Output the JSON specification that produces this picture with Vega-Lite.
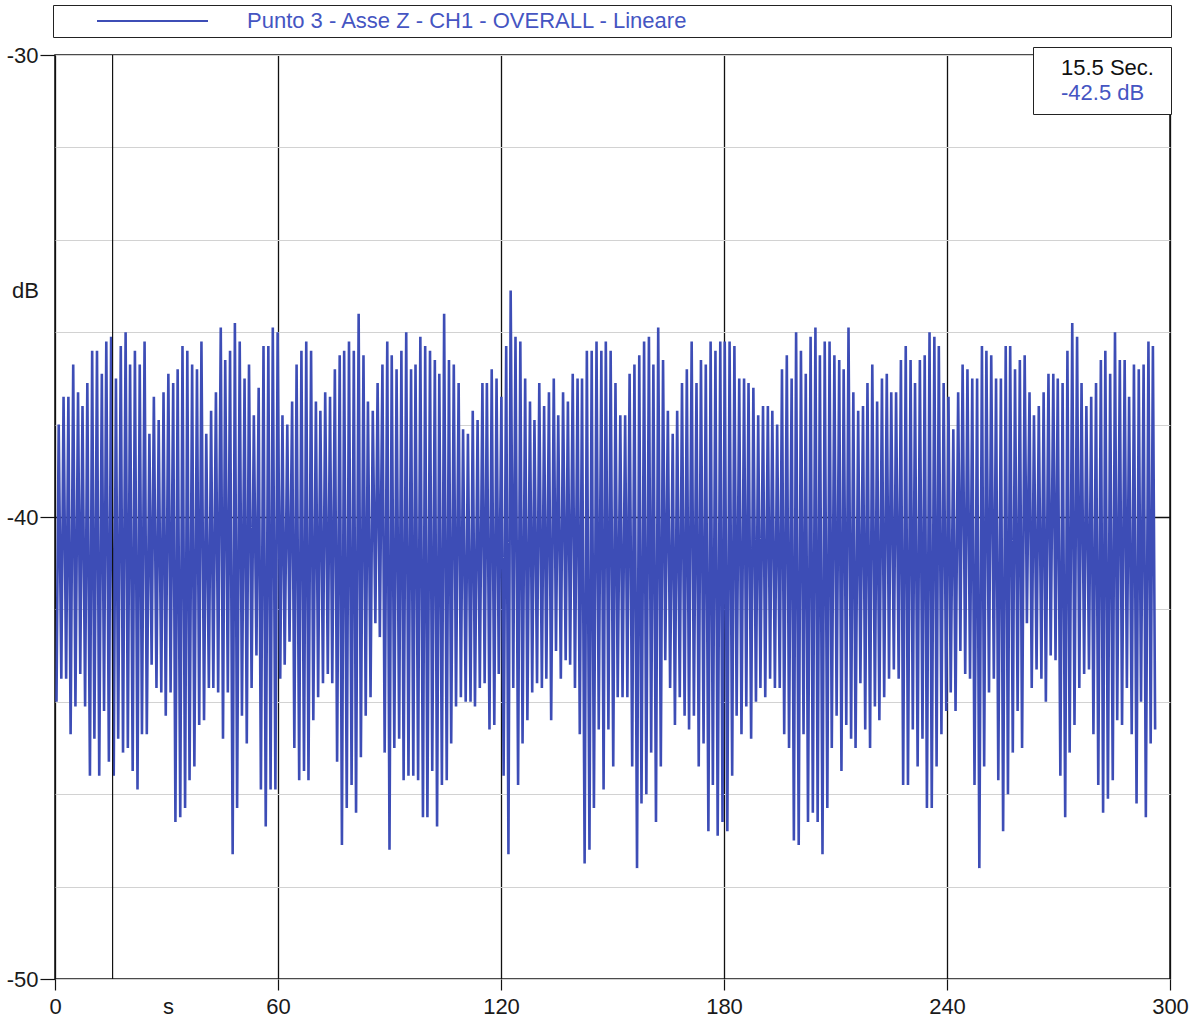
{
  "$schema": "https://vega.github.io/schema/vega-lite/v6.json",
  "width": 1115,
  "height": 924,
  "autosize": {"type": "none"},
  "padding": {"left": 55, "top": 55, "right": 32, "bottom": 44},
  "background": "white",
  "config": {
    "view": {"stroke": "#111111", "strokeWidth": 1.5},
    "font": "Liberation Sans, Arial, sans-serif"
  },
  "layer": [
    {
      "data": {"values": [
{"t":0.4,"v":-44.0},{"t":1.0,"v":-38.0},{"t":1.7,"v":-43.5},{"t":2.3,"v":-37.4},{"t":3.0,"v":-43.5},{"t":3.6,"v":-37.4},{"t":4.2,"v":-44.7},{"t":4.9,"v":-36.7},{"t":5.5,"v":-44.1},{"t":6.2,"v":-37.3},
{"t":6.8,"v":-43.4},{"t":7.4,"v":-37.6},{"t":8.1,"v":-44.1},{"t":8.7,"v":-37.1},{"t":9.4,"v":-45.6},{"t":10.0,"v":-36.4},{"t":10.6,"v":-44.8},{"t":11.3,"v":-36.4},{"t":11.9,"v":-45.6},{"t":12.6,"v":-36.9},
{"t":13.2,"v":-44.2},{"t":13.8,"v":-36.2},{"t":14.5,"v":-45.3},{"t":15.1,"v":-36.1},{"t":15.8,"v":-45.6},{"t":16.4,"v":-37.0},{"t":17.0,"v":-44.8},{"t":17.7,"v":-36.3},{"t":18.3,"v":-45.1},{"t":19.0,"v":-36.0},
{"t":19.6,"v":-45.0},{"t":20.2,"v":-36.7},{"t":20.9,"v":-45.5},{"t":21.5,"v":-36.4},{"t":22.2,"v":-45.9},{"t":22.8,"v":-36.7},{"t":23.4,"v":-44.7},{"t":24.1,"v":-36.2},{"t":24.7,"v":-44.7},{"t":25.4,"v":-38.2},
{"t":26.0,"v":-43.2},{"t":26.6,"v":-37.4},{"t":27.3,"v":-43.7},{"t":27.9,"v":-37.9},{"t":28.6,"v":-43.8},{"t":29.2,"v":-37.3},{"t":29.8,"v":-44.3},{"t":30.5,"v":-36.9},{"t":31.1,"v":-43.8},{"t":31.8,"v":-37.1},
{"t":32.4,"v":-46.6},{"t":33.0,"v":-36.8},{"t":33.7,"v":-46.5},{"t":34.3,"v":-36.3},{"t":35.0,"v":-46.3},{"t":35.6,"v":-36.4},{"t":36.2,"v":-45.7},{"t":36.9,"v":-36.7},{"t":37.5,"v":-45.4},{"t":38.2,"v":-36.8},
{"t":38.8,"v":-44.5},{"t":39.4,"v":-36.2},{"t":40.1,"v":-44.4},{"t":40.7,"v":-38.2},{"t":41.4,"v":-43.7},{"t":42.0,"v":-37.7},{"t":42.6,"v":-43.7},{"t":43.3,"v":-37.3},{"t":43.9,"v":-43.8},{"t":44.6,"v":-35.9},
{"t":45.2,"v":-44.8},{"t":45.8,"v":-36.6},{"t":46.5,"v":-43.8},{"t":47.1,"v":-36.4},{"t":47.8,"v":-47.3},{"t":48.4,"v":-35.8},{"t":49.0,"v":-46.3},{"t":49.7,"v":-36.2},{"t":50.3,"v":-44.3},{"t":51.0,"v":-37.0},
{"t":51.6,"v":-44.9},{"t":52.2,"v":-36.7},{"t":52.9,"v":-43.7},{"t":53.5,"v":-37.8},{"t":54.2,"v":-43.0},{"t":54.8,"v":-37.2},{"t":55.4,"v":-45.9},{"t":56.1,"v":-36.3},{"t":56.7,"v":-46.7},{"t":57.4,"v":-36.3},
{"t":58.0,"v":-45.9},{"t":58.6,"v":-35.9},{"t":59.3,"v":-45.9},{"t":59.9,"v":-36.0},{"t":60.6,"v":-43.5},{"t":61.2,"v":-37.8},{"t":61.8,"v":-43.2},{"t":62.5,"v":-38.0},{"t":63.1,"v":-42.7},{"t":63.8,"v":-37.5},
{"t":64.4,"v":-45.0},{"t":65.0,"v":-36.7},{"t":65.7,"v":-45.7},{"t":66.3,"v":-36.4},{"t":67.0,"v":-45.5},{"t":67.6,"v":-36.2},{"t":68.2,"v":-45.7},{"t":68.9,"v":-36.4},{"t":69.5,"v":-44.4},{"t":70.2,"v":-37.5},
{"t":70.8,"v":-43.9},{"t":71.4,"v":-37.7},{"t":72.1,"v":-43.6},{"t":72.7,"v":-37.3},{"t":73.4,"v":-43.4},{"t":74.0,"v":-37.4},{"t":74.6,"v":-43.6},{"t":75.3,"v":-36.8},{"t":75.9,"v":-45.3},{"t":76.6,"v":-36.5},
{"t":77.2,"v":-47.1},{"t":77.8,"v":-36.4},{"t":78.5,"v":-46.3},{"t":79.1,"v":-36.2},{"t":79.8,"v":-45.8},{"t":80.4,"v":-36.4},{"t":81.0,"v":-46.4},{"t":81.7,"v":-35.6},{"t":82.3,"v":-45.2},{"t":83.0,"v":-36.5},
{"t":83.6,"v":-44.3},{"t":84.2,"v":-37.5},{"t":84.9,"v":-43.9},{"t":85.5,"v":-37.7},{"t":86.2,"v":-42.3},{"t":86.8,"v":-37.1},{"t":87.4,"v":-42.6},{"t":88.1,"v":-36.7},{"t":88.7,"v":-45.1},{"t":89.4,"v":-36.2},
{"t":90.0,"v":-47.2},{"t":90.6,"v":-36.5},{"t":91.3,"v":-45.0},{"t":91.9,"v":-36.8},{"t":92.6,"v":-44.8},{"t":93.2,"v":-36.4},{"t":93.8,"v":-45.7},{"t":94.5,"v":-36.0},{"t":95.1,"v":-45.6},{"t":95.8,"v":-36.8},
{"t":96.4,"v":-45.6},{"t":97.0,"v":-36.7},{"t":97.7,"v":-45.7},{"t":98.3,"v":-36.1},{"t":99.0,"v":-46.5},{"t":99.6,"v":-36.3},{"t":100.2,"v":-46.5},{"t":100.9,"v":-36.4},{"t":101.5,"v":-45.5},{"t":102.2,"v":-36.6},
{"t":102.8,"v":-46.7},{"t":103.4,"v":-36.9},{"t":104.1,"v":-45.8},{"t":104.7,"v":-35.6},{"t":105.4,"v":-45.7},{"t":106.0,"v":-36.6},{"t":106.6,"v":-44.9},{"t":107.3,"v":-36.7},{"t":107.9,"v":-44.1},{"t":108.6,"v":-37.1},
{"t":109.2,"v":-43.9},{"t":109.8,"v":-38.1},{"t":110.5,"v":-44.0},{"t":111.1,"v":-38.2},{"t":111.8,"v":-44.0},{"t":112.4,"v":-37.7},{"t":113.0,"v":-44.1},{"t":113.7,"v":-37.9},{"t":114.3,"v":-43.7},{"t":115.0,"v":-37.1},
{"t":115.6,"v":-43.6},{"t":116.2,"v":-37.1},{"t":116.9,"v":-44.6},{"t":117.5,"v":-36.8},{"t":118.2,"v":-44.5},{"t":118.8,"v":-37.0},{"t":119.4,"v":-43.4},{"t":120.1,"v":-37.4},{"t":120.7,"v":-45.6},{"t":121.4,"v":-36.3},
{"t":122.0,"v":-47.3},{"t":122.6,"v":-35.1},{"t":123.3,"v":-43.7},{"t":123.9,"v":-36.1},{"t":124.6,"v":-45.8},{"t":125.2,"v":-36.2},{"t":125.8,"v":-44.9},{"t":126.5,"v":-37.0},{"t":127.1,"v":-44.4},{"t":127.8,"v":-37.5},
{"t":128.4,"v":-43.8},{"t":129.0,"v":-37.9},{"t":129.7,"v":-43.6},{"t":130.3,"v":-37.1},{"t":131.0,"v":-43.7},{"t":131.6,"v":-37.6},{"t":132.2,"v":-43.5},{"t":132.9,"v":-37.3},{"t":133.5,"v":-44.4},{"t":134.2,"v":-37.0},
{"t":134.8,"v":-42.9},{"t":135.4,"v":-37.8},{"t":136.1,"v":-43.5},{"t":136.7,"v":-37.3},{"t":137.4,"v":-43.1},{"t":138.0,"v":-37.5},{"t":138.6,"v":-43.2},{"t":139.3,"v":-36.9},{"t":139.9,"v":-43.7},{"t":140.6,"v":-37.0},
{"t":141.2,"v":-44.7},{"t":141.8,"v":-37.0},{"t":142.5,"v":-47.5},{"t":143.1,"v":-36.4},{"t":143.8,"v":-47.2},{"t":144.4,"v":-36.4},{"t":145.0,"v":-46.3},{"t":145.7,"v":-36.2},{"t":146.3,"v":-44.6},{"t":147.0,"v":-36.4},
{"t":147.6,"v":-45.9},{"t":148.2,"v":-36.2},{"t":148.9,"v":-44.6},{"t":149.5,"v":-36.4},{"t":150.2,"v":-45.4},{"t":150.8,"v":-37.1},{"t":151.4,"v":-43.9},{"t":152.1,"v":-37.8},{"t":152.7,"v":-43.9},{"t":153.4,"v":-37.8},
{"t":154.0,"v":-43.9},{"t":154.6,"v":-36.9},{"t":155.3,"v":-45.4},{"t":155.9,"v":-36.7},{"t":156.6,"v":-47.6},{"t":157.2,"v":-36.5},{"t":157.8,"v":-46.2},{"t":158.5,"v":-36.2},{"t":159.1,"v":-46.0},{"t":159.8,"v":-36.1},
{"t":160.4,"v":-45.1},{"t":161.0,"v":-36.7},{"t":161.7,"v":-46.6},{"t":162.3,"v":-35.9},{"t":163.0,"v":-45.4},{"t":163.6,"v":-36.6},{"t":164.2,"v":-43.1},{"t":164.9,"v":-37.7},{"t":165.5,"v":-43.7},{"t":166.2,"v":-38.2},
{"t":166.8,"v":-44.5},{"t":167.4,"v":-37.7},{"t":168.1,"v":-43.9},{"t":168.7,"v":-37.1},{"t":169.4,"v":-44.3},{"t":170.0,"v":-36.8},{"t":170.6,"v":-44.6},{"t":171.3,"v":-36.2},{"t":171.9,"v":-44.3},{"t":172.6,"v":-37.1},
{"t":173.2,"v":-45.4},{"t":173.8,"v":-36.6},{"t":174.5,"v":-44.9},{"t":175.1,"v":-36.7},{"t":175.8,"v":-46.8},{"t":176.4,"v":-36.2},{"t":177.0,"v":-45.8},{"t":177.7,"v":-36.4},{"t":178.3,"v":-46.9},{"t":179.0,"v":-36.2},
{"t":179.6,"v":-46.6},{"t":180.2,"v":-36.2},{"t":180.9,"v":-46.8},{"t":181.5,"v":-36.2},{"t":182.2,"v":-45.6},{"t":182.8,"v":-36.3},{"t":183.4,"v":-44.3},{"t":184.1,"v":-37.0},{"t":184.7,"v":-44.7},{"t":185.4,"v":-37.0},
{"t":186.0,"v":-44.1},{"t":186.6,"v":-37.1},{"t":187.3,"v":-44.8},{"t":187.9,"v":-37.2},{"t":188.6,"v":-44.0},{"t":189.2,"v":-37.8},{"t":189.8,"v":-43.7},{"t":190.5,"v":-37.6},{"t":191.1,"v":-43.9},{"t":191.8,"v":-37.6},
{"t":192.4,"v":-43.5},{"t":193.0,"v":-37.7},{"t":193.7,"v":-43.7},{"t":194.3,"v":-38.0},{"t":195.0,"v":-43.7},{"t":195.6,"v":-36.8},{"t":196.2,"v":-44.7},{"t":196.9,"v":-36.5},{"t":197.5,"v":-45.0},{"t":198.2,"v":-37.0},
{"t":198.8,"v":-47.0},{"t":199.4,"v":-36.0},{"t":200.1,"v":-47.1},{"t":200.7,"v":-36.4},{"t":201.4,"v":-44.7},{"t":202.0,"v":-36.9},{"t":202.6,"v":-46.6},{"t":203.3,"v":-36.1},{"t":203.9,"v":-46.4},{"t":204.6,"v":-35.9},
{"t":205.2,"v":-46.6},{"t":205.8,"v":-36.5},{"t":206.5,"v":-47.3},{"t":207.1,"v":-36.2},{"t":207.8,"v":-46.3},{"t":208.4,"v":-36.2},{"t":209.0,"v":-45.0},{"t":209.7,"v":-36.5},{"t":210.3,"v":-44.3},{"t":211.0,"v":-36.6},
{"t":211.6,"v":-45.5},{"t":212.2,"v":-36.8},{"t":212.9,"v":-44.5},{"t":213.5,"v":-35.9},{"t":214.2,"v":-44.8},{"t":214.8,"v":-37.3},{"t":215.4,"v":-45.0},{"t":216.1,"v":-37.7},{"t":216.7,"v":-43.6},{"t":217.4,"v":-37.6},
{"t":218.0,"v":-44.6},{"t":218.6,"v":-37.1},{"t":219.3,"v":-45.0},{"t":219.9,"v":-36.7},{"t":220.6,"v":-44.1},{"t":221.2,"v":-37.5},{"t":221.8,"v":-44.4},{"t":222.5,"v":-37.0},{"t":223.1,"v":-43.9},{"t":223.8,"v":-36.9},
{"t":224.4,"v":-43.5},{"t":225.0,"v":-37.3},{"t":225.7,"v":-43.3},{"t":226.3,"v":-37.3},{"t":227.0,"v":-43.5},{"t":227.6,"v":-36.6},{"t":228.2,"v":-45.8},{"t":228.9,"v":-36.3},{"t":229.5,"v":-45.8},{"t":230.2,"v":-36.6},
{"t":230.8,"v":-44.6},{"t":231.4,"v":-37.1},{"t":232.1,"v":-45.4},{"t":232.7,"v":-36.6},{"t":233.4,"v":-44.8},{"t":234.0,"v":-36.5},{"t":234.6,"v":-46.3},{"t":235.3,"v":-36.0},{"t":235.9,"v":-46.3},{"t":236.6,"v":-36.1},
{"t":237.2,"v":-45.4},{"t":237.8,"v":-36.3},{"t":238.5,"v":-44.7},{"t":239.1,"v":-37.1},{"t":239.8,"v":-44.2},{"t":240.4,"v":-37.4},{"t":241.0,"v":-43.8},{"t":241.7,"v":-38.1},{"t":242.3,"v":-44.2},{"t":243.0,"v":-37.3},
{"t":243.6,"v":-42.9},{"t":244.2,"v":-36.7},{"t":244.9,"v":-43.4},{"t":245.5,"v":-36.8},{"t":246.2,"v":-43.5},{"t":246.8,"v":-37.0},{"t":247.4,"v":-45.8},{"t":248.1,"v":-37.0},{"t":248.7,"v":-47.6},{"t":249.4,"v":-36.3},
{"t":250.0,"v":-45.4},{"t":250.6,"v":-36.4},{"t":251.3,"v":-43.8},{"t":251.9,"v":-36.5},{"t":252.6,"v":-43.5},{"t":253.2,"v":-37.0},{"t":253.8,"v":-45.7},{"t":254.5,"v":-37.0},{"t":255.1,"v":-46.8},{"t":255.8,"v":-36.3},
{"t":256.4,"v":-46.0},{"t":257.0,"v":-36.3},{"t":257.7,"v":-45.1},{"t":258.3,"v":-36.8},{"t":259.0,"v":-44.2},{"t":259.6,"v":-36.6},{"t":260.2,"v":-45.0},{"t":260.9,"v":-36.5},{"t":261.5,"v":-42.3},{"t":262.2,"v":-37.3},
{"t":262.8,"v":-43.7},{"t":263.4,"v":-37.8},{"t":264.1,"v":-43.3},{"t":264.7,"v":-37.6},{"t":265.4,"v":-43.5},{"t":266.0,"v":-37.3},{"t":266.6,"v":-44.0},{"t":267.3,"v":-36.9},{"t":267.9,"v":-43.0},{"t":268.6,"v":-36.9},
{"t":269.2,"v":-43.1},{"t":269.8,"v":-37.0},{"t":270.5,"v":-45.6},{"t":271.1,"v":-37.1},{"t":271.8,"v":-46.5},{"t":272.4,"v":-36.4},{"t":273.0,"v":-45.1},{"t":273.7,"v":-35.8},{"t":274.3,"v":-44.5},{"t":275.0,"v":-36.1},
{"t":275.6,"v":-43.7},{"t":276.2,"v":-37.1},{"t":276.9,"v":-43.4},{"t":277.5,"v":-37.6},{"t":278.2,"v":-43.3},{"t":278.8,"v":-37.4},{"t":279.4,"v":-44.7},{"t":280.1,"v":-37.1},{"t":280.7,"v":-45.8},{"t":281.4,"v":-36.6},
{"t":282.0,"v":-46.4},{"t":282.6,"v":-36.4},{"t":283.3,"v":-46.1},{"t":283.9,"v":-36.9},{"t":284.6,"v":-45.7},{"t":285.2,"v":-36.0},{"t":285.8,"v":-44.4},{"t":286.5,"v":-36.6},{"t":287.1,"v":-44.5},{"t":287.8,"v":-36.6},
{"t":288.4,"v":-43.7},{"t":289.0,"v":-37.4},{"t":289.7,"v":-44.7},{"t":290.3,"v":-36.7},{"t":291.0,"v":-46.2},{"t":291.6,"v":-36.8},{"t":292.2,"v":-44.0},{"t":292.9,"v":-36.7},{"t":293.5,"v":-46.5},{"t":294.2,"v":-36.2},
{"t":294.8,"v":-44.9},{"t":295.4,"v":-36.3},{"t":296.0,"v":-44.6}
      ]},
      "mark": {"type": "line", "strokeWidth": 2.6, "clip": true},
      "encoding": {
        "x": {
          "field": "t", "type": "quantitative",
          "scale": {"domain": [0, 300], "nice": false, "zero": false},
          "axis": {
            "values": [0, 60, 120, 180, 240, 300],
            "title": "s",
            "domain": false,
            "grid": true, "gridColor": "#111111", "gridWidth": 1.3, "gridOpacity": 1,
            "tickColor": "#111111", "tickSize": 11, "tickWidth": 1.2,
            "labelFontSize": 22, "labelColor": "#1a1a1a", "labelPadding": 6, "labelFlush": false,
            "titleFontSize": 22, "titleFontWeight": "normal", "titleColor": "#1a1a1a",
            "titleX": 113, "titleY": 34, "titleAlign": "center", "titleBaseline": "alphabetic"
          }
        },
        "y": {
          "field": "v", "type": "quantitative",
          "scale": {"domain": [-50, -30], "nice": false, "zero": false},
          "axis": {
            "values": [-30, -32, -34, -36, -38, -40, -42, -44, -46, -48, -50],
            "title": "dB",
            "domain": false,
            "labelExpr": "datum.value % 10 === 0 ? '' + datum.value : ''",
            "grid": true,
            "gridColor": {"condition": {"test": "datum.value === -40", "value": "#111111"}, "value": "#d2d2d2"},
            "gridWidth": {"condition": {"test": "datum.value === -40", "value": 1.3}, "value": 1},
            "gridOpacity": 1,
            "tickColor": "#111111", "tickSize": 15, "tickWidth": 1.2,
            "tickOpacity": {"condition": {"test": "datum.value % 10 === 0", "value": 1}, "value": 0},
            "labelFontSize": 22, "labelColor": "#1a1a1a", "labelPadding": 2,
            "titleFontSize": 22, "titleFontWeight": "normal", "titleColor": "#1a1a1a",
            "titleAngle": 0, "titleX": -30, "titleY": 235, "titleAlign": "center", "titleBaseline": "middle"
          }
        },
        "color": {
          "datum": "Punto 3 - Asse Z - CH1 - OVERALL - Lineare",
          "type": "nominal",
          "scale": {"range": ["#3d4db6"]},
          "legend": {
            "orient": "none", "legendX": -2, "legendY": -50,
            "title": null,
            "symbolType": "M-5.55,0H5.55", "symbolSize": 400, "symbolStrokeWidth": 2,
            "symbolOffset": 83.5, "labelOffset": 83.5,
            "labelFontSize": 22, "labelColor": "#4555c2", "labelLimit": 3000,
            "labelExpr": "pad(datum.label, 120, '\u00a0') + '\u200b'",
            "padding": 5, "strokeColor": "#222222", "fillColor": "white", "cornerRadius": 0
          }
        }
      }
    },
    {
      "data": {"values": [
        {"t": 15.5, "readout": "15.5 Sec."},
        {"t": 15.5, "readout": "-42.5 dB"}
      ]},
      "mark": {"type": "rule", "color": "#111111", "strokeWidth": 1},
      "encoding": {
        "x": {"field": "t", "type": "quantitative"},
        "strokeDash": {
          "field": "readout", "type": "nominal",
          "scale": {"domain": ["15.5 Sec.", "-42.5 dB"], "range": [[1, 0], [1, 0]]},
          "legend": {
            "orient": "none", "legendX": 978, "legendY": -8,
            "title": null,
            "symbolOpacity": 0, "symbolSize": 100,
            "labelOffset": -4, "labelFontSize": 22,
            "labelExpr": "datum.label + '\u00a0\u200b'",
            "labelColor": {"expr": "datum.value === '-42.5 dB' ? '#4555c2' : '#111111'"},
            "rowPadding": 3, "padding": 10,
            "strokeColor": "#222222", "fillColor": "white", "cornerRadius": 0
          }
        }
      }
    }
  ]
}
